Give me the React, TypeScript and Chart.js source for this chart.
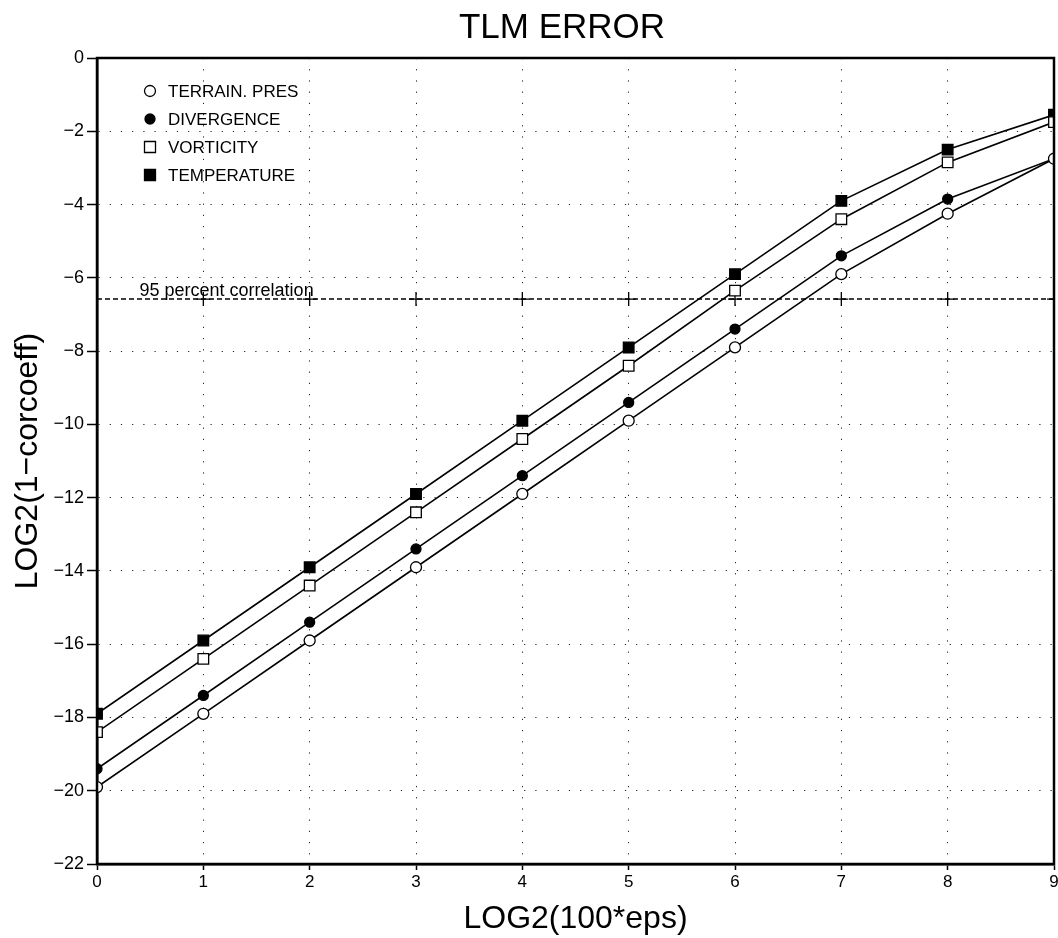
import React, { useEffect, useRef } from "react";
import { Chart, registerables } from "chart.js";

Chart.register(...registerables);

const TITLE = "TLM ERROR";
const X_TITLE = "LOG2(100*eps)";
const Y_TITLE = "LOG2(1\u2212corcoeff)";
const X_VALUES = [0, 1, 2, 3, 4, 5, 6, 7, 8, 9];
const SERIES_LABELS = ["TERRAIN. PRES", "DIVERGENCE", "VORTICITY", "TEMPERATURE"];
const TERRAIN_PRES = [-19.9, -17.9, -15.9, -13.9, -11.9, -9.9, -7.9, -5.9, -4.25, -2.75];
const DIVERGENCE = [-19.4, -17.4, -15.4, -13.4, -11.4, -9.4, -7.4, -5.4, -3.85, -2.75];
const VORTICITY = [-18.4, -16.4, -14.4, -12.4, -10.4, -8.4, -6.35, -4.4, -2.85, -1.75];
const TEMPERATURE = [-17.9, -15.9, -13.9, -11.9, -9.9, -7.9, -5.9, -3.9, -2.5, -1.55];
const CORR_LEVEL = -6.58;
const CORR_LABEL = "95 percent correlation";
const CORR_LABEL_X = 0.4;
const CORR_CROSS_X = [1, 2, 3, 4, 5, 6, 7, 8, 9];

const FONT = '"Liberation Sans", Arial, Helvetica, sans-serif';

type Marker = { style: "circle" | "rect"; filled: boolean };
const MARKERS: Marker[] = [
  { style: "circle", filled: false },
  { style: "circle", filled: true },
  { style: "rect", filled: false },
  { style: "rect", filled: true },
];

function drawMarker(ctx: CanvasRenderingContext2D, m: Marker, cx: number, cy: number) {
  ctx.save();
  ctx.lineWidth = 1.3;
  ctx.strokeStyle = "#000";
  ctx.fillStyle = m.filled ? "#000" : "#fff";
  ctx.beginPath();
  if (m.style === "circle") {
    ctx.arc(cx, cy, m.filled ? 5 : 5.5, 0, Math.PI * 2);
  } else {
    ctx.rect(cx - 5.5, cy - 5.5, 11, 11);
  }
  ctx.fill();
  ctx.stroke();
  ctx.restore();
}

const decorPlugin = {
  id: "decor",
  afterDraw(chart: any) {
    const { ctx, chartArea: a, scales } = chart;
    const xs = scales.x;
    const ys = scales.y;
    ctx.save();
    ctx.lineWidth = 2.5;
    ctx.strokeStyle = "#000";
    ctx.strokeRect(a.left, a.top, a.right - a.left, a.bottom - a.top);
    ctx.fillStyle = "#000";
    ctx.font = `35px ${FONT}`;
    ctx.textAlign = "center";
    ctx.textBaseline = "alphabetic";
    ctx.fillText(TITLE, 562, 38);
    ctx.font = `18px ${FONT}`;
    ctx.textAlign = "left";
    ctx.fillText(CORR_LABEL, xs.getPixelForValue(CORR_LABEL_X), ys.getPixelForValue(CORR_LEVEL) - 3);
    ctx.font = `17px ${FONT}`;
    ctx.textBaseline = "middle";
    SERIES_LABELS.forEach((lab, i) => {
      const cy = a.top + 33 + i * 28;
      drawMarker(ctx, MARKERS[i], a.left + 53, cy);
      ctx.fillStyle = "#000";
      ctx.fillText(lab, a.left + 71, cy + 1);
    });
    ctx.restore();
  },
};

function seriesDataset(label: string, values: number[], m: Marker) {
  return {
    type: "line" as const,
    label,
    data: X_VALUES.map((x, i) => ({ x, y: values[i] })),
    borderColor: "#000",
    borderWidth: 1.6,
    pointStyle: m.style,
    pointRadius: m.style === "rect" ? 7.5 : m.filled ? 5 : 5.5,
    pointBackgroundColor: m.filled ? "#000" : "#fff",
    pointBorderColor: "#000",
    pointBorderWidth: 1.3,
    tension: 0,
    fill: false,
  };
}

export default function App() {
  const ref = useRef<HTMLCanvasElement | null>(null);
  useEffect(() => {
    if (!ref.current) return;
    const datasets: any[] = [
      seriesDataset(SERIES_LABELS[0], TERRAIN_PRES, MARKERS[0]),
      seriesDataset(SERIES_LABELS[1], DIVERGENCE, MARKERS[1]),
      seriesDataset(SERIES_LABELS[2], VORTICITY, MARKERS[2]),
      seriesDataset(SERIES_LABELS[3], TEMPERATURE, MARKERS[3]),
      {
        type: "line",
        label: "corr-line",
        data: [
          { x: X_VALUES[0], y: CORR_LEVEL },
          { x: X_VALUES[X_VALUES.length - 1], y: CORR_LEVEL },
        ],
        borderColor: "#000",
        borderWidth: 1.4,
        borderDash: [5, 3],
        pointRadius: 0,
      },
      {
        type: "scatter",
        label: "corr-cross",
        data: CORR_CROSS_X.map((x) => ({ x, y: CORR_LEVEL })),
        pointStyle: "cross",
        pointRadius: 7,
        pointBorderColor: "#000",
        pointBorderWidth: 1.3,
        showLine: false,
      },
    ];
    const chart = new Chart(ref.current, {
      type: "line",
      data: { datasets },
      plugins: [decorPlugin],
      options: {
        animation: false,
        responsive: false,
        devicePixelRatio: 1,
        layout: { autoPadding: false, padding: { top: 58, right: 4, left: 0, bottom: 0 } },
        plugins: {
          legend: { display: false },
          title: { display: false },
          tooltip: { enabled: false },
        },
        scales: {
          x: {
            type: "linear",
            min: 0,
            max: 9,
            afterFit: (s: any) => {
              s.height = 74;
              s.paddingLeft = 0;
              s.paddingRight = 0;
            },
            ticks: {
              stepSize: 1,
              color: "#000",
              font: { family: FONT, size: 17 },
              padding: 2,
              maxRotation: 0,
            },
            grid: {
              color: "#222",
              lineWidth: 1,
              drawTicks: true,
              tickLength: 6,
              tickColor: "#000",
              tickWidth: 1.5,
            },
            border: { display: true, color: "#000", width: 2.5, dash: [1.2, 10] },
            title: {
              display: true,
              text: X_TITLE,
              color: "#000",
              font: { family: FONT, size: 32 },
              padding: { top: 0, bottom: 0 },
            },
          },
          y: {
            type: "linear",
            min: -22,
            max: 0,
            afterFit: (s: any) => {
              s.width = 97;
              s.paddingTop = 0;
              s.paddingBottom = 0;
            },
            ticks: {
              stepSize: 2,
              color: "#000",
              font: { family: FONT, size: 18 },
              padding: 3,
              callback: (v: any) => String(v).replace("-", "\u2212"),
            },
            grid: {
              color: "#222",
              lineWidth: 1,
              drawTicks: true,
              tickLength: 10,
              tickColor: "#000",
              tickWidth: 1.5,
            },
            border: { display: true, color: "#000", width: 2.5, dash: [1.2, 10] },
            title: {
              display: true,
              text: Y_TITLE,
              color: "#000",
              font: { family: FONT, size: 32 },
              padding: { top: 9, bottom: 0 },
            },
          },
        },
      } as any,
    });
    return () => chart.destroy();
  }, []);
  return (
    <div style={{ position: "fixed", left: 0, top: 0, width: 1058, height: 938, background: "#fff" }}>
      <canvas ref={ref} width={1058} height={938} />
    </div>
  );
}
